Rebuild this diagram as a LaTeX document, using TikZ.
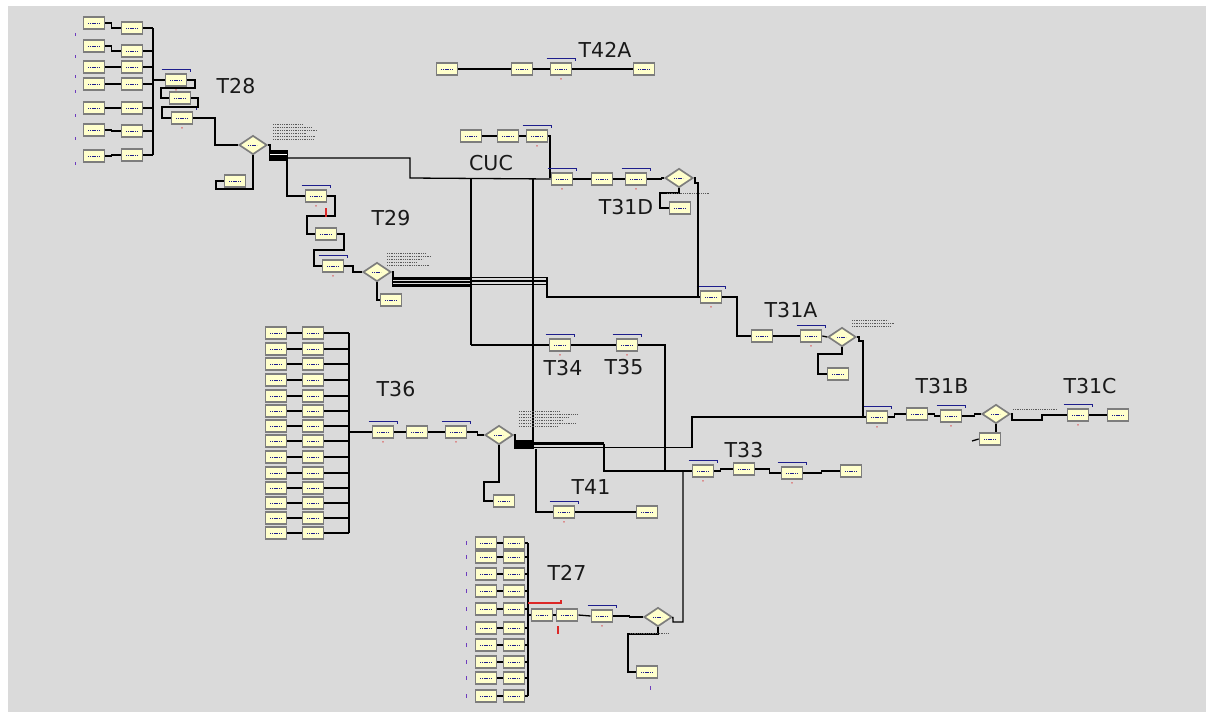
\documentclass[tikz,border=0pt]{standalone}
\usepackage{fontspec}
\setmainfont{DejaVu Sans}
\usetikzlibrary{shapes.geometric}
\definecolor{bg}{RGB}{218,218,218}
\definecolor{byel}{RGB}{255,255,204}
\definecolor{bedge}{RGB}{125,125,125}
\definecolor{qblue}{RGB}{30,30,140}
\definecolor{mkred}{RGB}{220,40,40}
\definecolor{mkpur}{RGB}{110,60,190}
\newcommand\Qbar[1]{\draw[qbar] ([shift={(-3,-3.5)}]#1.north west) -- ([shift={(3,-3.5)}]#1.north east) -- ++(0,2.5);
  \fill[mkred] ([yshift=-3pt]#1.south) circle (0.7);}
\begin{document}
\begin{tikzpicture}[x=1pt,y=-1pt,
  blk/.style={rectangle, draw=bedge, fill=byel, line width=1.7pt, minimum width=21pt, minimum height=12pt, inner sep=0pt,
    path picture={\draw[qblue, line width=0.7pt, dash pattern=on 1.2pt off 0.6pt] ([xshift=-6pt]path picture bounding box.center) -- ([xshift=5pt]path picture bounding box.center);}},
  dia/.style={diamond, draw=bedge, fill=byel, line width=1.7pt, minimum width=28pt, minimum height=19pt, inner sep=0pt, aspect=1.5,
    path picture={\draw[qblue, line width=0.7pt, dash pattern=on 1.2pt off 0.6pt] ([xshift=-5pt]path picture bounding box.center) -- ([xshift=4pt]path picture bounding box.center);}},
  conn/.style={line width=1.3pt, black},
  qbar/.style={qblue, line width=1.2pt},
  lbl/.style={font=\fontsize{20.5}{24}\selectfont, text=black!90, inner sep=0pt},
  txt/.style={black!65, line width=0.6pt, dash pattern=on 1pt off 0.8pt}
]
\useasboundingbox (0,0) rectangle (1212,718);
\fill[white] (0,0) rectangle (1212,718);
\fill[bg] (8,6) rectangle (1206,712);

% ---------------- T28 ----------------
\foreach \i/\yl/\yr in {1/23/28, 2/46/51, 3/67/67, 4/84/84, 5/108/108, 6/130/131, 7/156/155} {
  \node[blk] (L\i) at (94,\yl) {};
  \node[blk] (R\i) at (132,\yr) {};
  \draw[conn] (L\i.east) -- ++(6,0) |- (R\i.west);
  \draw[conn] (R\i.east) -- (153,\yr);
}
\foreach \yy in {33,55,75,90,114,137,162} \draw[mkpur, line width=0.8pt] (75,\yy) -- ++(0,3);
\draw[conn] (153,28) -- (153,155);
\node[blk] (A1) at (176,80) {};
\node[blk] (A2) at (180,98) {};
\node[blk] (A3) at (182,118) {};
\Qbar{A1}\Qbar{A3}
\draw[conn] (153,80) -- (A1.west);
\draw[conn] (A1.east) -- (195,80) -- (195,88) -- (161,88) -- (161,98) -- (A2.west);
\draw[conn] (A2.east) -- (198,98) -- (198,107) -- (162,107) -- (162,118) -- (A3.west);
\node[dia] (D28) at (253,145) {};
\node[blk] (B28) at (235,181) {};
\draw[conn] (A3.east) -- (215,118) -- (215,145) -- (D28.west);
\draw[conn] (D28.south) -- (253,189) -- (216,189) -- (216,181) -- (B28.west);
\draw[conn] (D28.east) -| (270,150);
\fill (269,150) rectangle (288,161);
\draw[white, line width=0.8pt] (270,154) -- (287,154);
\foreach \yy/\ll in {124/30,127/38,130/44,133/34,136/42,139/40} \draw[txt] (273,\yy) -- ++(\ll,0);
\node[lbl] at (236,86) {T28};

% ---------------- CUC ----------------
\node[blk] (G1) at (471,136) {};
\node[blk] (G2) at (508,136) {};
\node[blk] (G3) at (537,136) {};
\Qbar{G3}
\draw[conn] (G1.east) -- (G2.west);
\draw[conn] (G2.east) -- (G3.west);
\draw[conn] (G3.east) -- (550,136) -- (550,178);
\node[lbl] at (491,163) {CUC};

% ---------------- T31D ----------------
\node[blk] (E1) at (562,179) {};
\node[blk] (E2) at (602,179) {};
\node[blk] (E3) at (636,179) {};
\node[dia] (D31D) at (679,178) {};
\node[blk] (B31D) at (680,208) {};
\Qbar{E1}\Qbar{E3}
\draw[conn] (288,158) -- (410,158) -- (410,178) -- (E1.west);
\draw[conn] (E1.east) -- ++(6,0) |- (E2.west);
\draw[conn] (E2.east) -- (E3.west);
\draw[conn] (E3.east) -- ++(14,0) |- (D31D.west);
\draw[conn] (D31D.south) -- (679,193) -- (660,193) -- (660,208) -- (B31D.west);
\draw[txt] (667,193) -- (710,193);
\node[lbl] at (626,207) {T31D};

% ---------------- T42A ----------------
\node[blk] (F1) at (447,69) {};
\node[blk] (F2) at (522,69) {};
\node[blk] (F3) at (561,69) {};
\node[blk] (F4) at (644,69) {};
\Qbar{F3}
\draw[conn] (F1.east) -- (F2.west);
\draw[conn] (F2.east) -- (F3.west);
\draw[conn] (F3.east) -- (F4.west);
\node[lbl] at (605,50) {T42A};

% ---------------- T29 ----------------
\node[blk] (C1) at (316,196) {};
\node[blk] (C2) at (326,234) {};
\node[blk] (C3) at (333,266) {};
\node[dia] (D29) at (377,272) {};
\node[blk] (B29) at (391,300) {};
\Qbar{C1}\Qbar{C3}
\draw[conn] (287,161) -- (287,196) -- (C1.west);
\draw[conn] (C1.east) -- (335,196) -- (335,216) -- (307,216) -- (307,234) -- (C2.west);
\draw[mkred, line width=1.2pt] (326,208) -- (326,217);
\draw[conn] (C2.east) -- (344,234) -- (344,250) -- (314,250) -- (314,266) -- (C3.west);
\draw[conn] (C3.east) -- (353,266) -- (353,272) -- (D29.west);
\draw[conn] (D29.south) |- (B29.west);
\draw[conn] (D29.east) -| (393,277);
\fill (392,276.5) rectangle (471,286.5);
\draw[bg, line width=0.8pt] (393,280.2) -- (471,280.2);
\draw[bg, line width=0.8pt] (393,283.4) -- (471,283.4);
\foreach \yy in {277.3,281,284.7} \draw[line width=1.1pt] (471,\yy) -- (547,\yy);
\foreach \yy/\ll in {253/38,256/44,259/36,262/30,265/42} \draw[txt] (387,\yy) -- ++(\ll,0);
\node[lbl] at (391,218) {T29};

% CUC verticals
\draw[conn] (471,178) -- (471,345);
\draw[conn] (533,178) -- (533,443);

% ---------------- T31A ----------------
\node[blk] (S1) at (711,297) {};
\node[blk] (S2) at (762,336) {};
\node[blk] (S3) at (811,336) {};
\node[dia] (D31A) at (842,337) {};
\node[blk] (B31A) at (838,374) {};
\Qbar{S1}\Qbar{S3}
\draw[conn] (547,277) -- (547,297) -- (S1.west);
\draw[conn] (D31D.east) -- (695,178) -- (695,183) -- (698,183) -- (698,297);
\draw[conn] (S1.east) -- (737,297) -- (737,336) -- (S2.west);
\draw[conn] (S2.east) -- (S3.west);
\draw[conn] (S3.east) -- (D31A.west);
\draw[conn] (D31A.south) -- (842,354) -- (818,354) -- (818,374) -- (B31A.west);
\foreach \yy/\ll in {320/36,323/43,326/38} \draw[txt] (852,\yy) -- ++(\ll,0);
\node[lbl] at (791,310) {T31A};

% ---------------- T34 / T35 ----------------
\node[blk] (H1) at (560,345) {};
\node[blk] (H2) at (627,345) {};
\Qbar{H1}\Qbar{H2}
\draw[conn] (471,345) -- (H1.west);
\draw[conn] (H1.east) -- (H2.west);
\draw[conn] (H2.east) -- (665,345) -- (665,471);
\node[lbl] at (563,368) {T34};
\node[lbl] at (624,367) {T35};

% ---------------- T31B / T31C ----------------
\node[blk] (P1) at (877,417) {};
\node[blk] (P2) at (917,414) {};
\node[blk] (P3) at (951,416) {};
\node[dia] (D31B) at (996,414) {};
\node[blk] (B31B) at (990,439) {};
\node[blk] (R31) at (1078,415) {};
\node[blk] (R32) at (1118,415) {};
\Qbar{P1}\Qbar{P3}\Qbar{R31}
\draw[conn] (D31A.east) -- (859,337) -- (859,341) -- (863,341) -- (863,417) -- (P1.west);
\draw[conn] (P1.east) -- ++(6,0) |- (P2.west);
\draw[conn] (P2.east) -- ++(6,0) |- (P3.west);
\draw[conn] (P3.east) -- ++(12,0) |- (D31B.west);
\draw[conn] (D31B.south) -- (D31B.south |- B31B.north);
\coordinate (lx) at (972,441);
\draw[conn] (lx) -- (B31B.west);
\draw[conn] (D31B.east) -- (1012,414) -- (1012,420) -- (1042,420) -- (1042,415) -- (R31.west);
\draw[conn] (R31.east) -- (R32.west);
\draw[txt] (1013,409) -- (1057,409);
\node[lbl] at (942,386) {T31B};
\node[lbl] at (1090,386) {T31C};

% ---------------- T36 ----------------
\foreach \i/\yy in {1/333,2/349,3/364,4/380,5/396,6/411,7/426,8/441,9/457,10/473,11/488,12/503,13/518,14/533} {
  \node[blk] (K\i) at (276,\yy) {};
  \node[blk] (M\i) at (313,\yy) {};
  \draw[conn] (K\i.east) -- (M\i.west);
  \draw[conn] (M\i.east) -- (349,\yy);
}
\draw[conn] (349,333) -- (349,533);
\node[blk] (N1) at (383,432) {};
\node[blk] (N2) at (417,432) {};
\node[blk] (N3) at (456,432) {};
\node[dia] (D36) at (499,435) {};
\node[blk] (B36) at (504,501) {};
\Qbar{N1}\Qbar{N3}
\draw[conn] (349,432) -- (N1.west);
\draw[conn] (N1.east) -- (N2.west);
\draw[conn] (N2.east) -- (N3.west);
\draw[conn] (N3.east) -- ++(10,0) |- (D36.west);
\draw[conn] (D36.south) -- (499,482) -- (484,482) -- (484,501) -- (B36.west);
\draw[conn] (D36.east) -| (515,440);
\fill (514,440) rectangle (534,449);
\foreach \yy/\ll in {411/40,414/58,417/50,420/44,423/56,426/38} \draw[txt] (519,\yy) -- ++(\ll,0);
\node[lbl] at (396,389) {T36};

% ---------------- T33 ----------------
\node[blk] (J1) at (703,471) {};
\node[blk] (J2) at (744,469) {};
\node[blk] (J3) at (792,473) {};
\node[blk] (J4) at (851,471) {};
\Qbar{J1}\Qbar{J3}
\draw[line width=2.2pt] (533,443.5) -- (604,443.5);
\draw[conn] (604,443.5) -- (604,471) -- (J1.west);
\draw[line width=1.6pt] (533,447.5) -- (692,447.5) -- (692,417) -- (P1.west);
\draw[conn] (J1.east) -- ++(6,0) |- (J2.west);
\draw[conn] (J2.east) -- ++(14,0) |- (J3.west);
\draw[conn] (J3.east) -- ++(18,0) |- (J4.west);
\node[lbl] at (744,450) {T33};

% ---------------- T41 ----------------
\node[blk] (Q1) at (564,512) {};
\node[blk] (Q2) at (647,512) {};
\Qbar{Q1}
\draw[conn] (536,449) -- (536,512) -- (Q1.west);
\draw[conn] (Q1.east) -- (Q2.west);
\node[lbl] at (591,487) {T41};

% ---------------- T27 ----------------
\foreach \i/\yy in {1/543,2/557,3/574,4/591,5/609,6/628,7/645,8/662,9/678,10/696} {
  \node[blk] (T\i) at (486,\yy) {};
  \node[blk] (U\i) at (514,\yy) {};
  \draw[conn] (T\i.east) -- (U\i.west);
  \draw[conn] (U\i.east) -- (528,\yy);
  \draw[mkpur, line width=0.8pt] (466,\yy-2) -- ++(0,4);
}
\draw[conn] (528,543) -- (528,696);
\draw[mkred, line width=1.2pt] (528,603) -- (561,603) -- (561,600);
\node[blk] (V1) at (542,615) {};
\node[blk] (V2) at (567,615) {};
\node[blk] (V3) at (602,616) {};
\node[dia] (D27) at (658,617) {};
\node[blk] (B27) at (647,672) {};
\Qbar{V3}
\draw[conn] (528,615) -- (V1.west);
\draw[conn] (V1.east) -- (V2.west);
\draw[conn] (V2.east) -- (V3.west);
\draw[conn] (V3.east) -- ++(16,0) |- (D27.west);
\draw[conn] (D27.east) -- (673,622) -- (683,622) -- (683,471);
\draw[conn] (665,471) -- (J1.west);
\draw[conn] (D27.south) -- (658,634) -- (628,634) -- (628,672) -- (B27.west);
\draw[txt] (630,633) -- (668,633);
\fill[mkred] (557,626) rectangle (559,634);
\fill[mkpur] (650,686) rectangle (651,690);
\node[lbl] at (567,573) {T27};
\end{tikzpicture}
\end{document}
